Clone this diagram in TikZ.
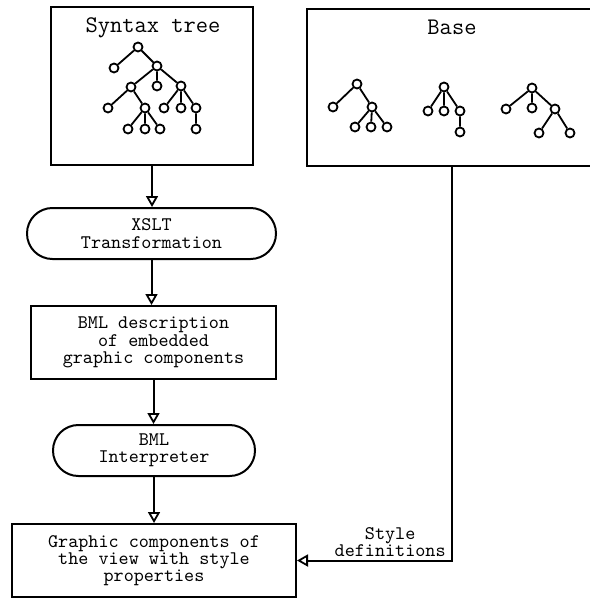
\documentclass[tikz,border=0pt]{standalone}
\usetikzlibrary{arrows.meta}
\tikzset{
  every picture/.style={x=0.5pt,y=-0.5pt},
  txt/.style={font={\ttfamily\fontsize{9.6}{8.6}\selectfont},align=center},
  ttl/.style={font={\ttfamily\fontsize{11.9}{12}\selectfont}},
  box/.style={draw,line width=1pt,rectangle,inner sep=0pt,txt},
  pill/.style={draw,line width=1pt,rectangle,rounded corners=12.7pt,inner sep=0pt,txt},
  tn/.style={circle,draw,line width=0.9pt,fill=white,inner sep=0pt,minimum size=4.5pt},
  te/.style={line width=0.9pt},
  flow/.style={line width=1pt,-{Triangle[open,length=5.5pt,width=6pt,line width=0.9pt]}}
}
\begin{document}
\begin{tikzpicture}
\useasboundingbox (0,0) rectangle (589,599);
% boxes
\node[box,minimum width=101pt,minimum height=79pt] (syn) at (152,86) {};
\node[box,minimum width=145pt,minimum height=78.5pt] (base) at (452,87.5) {};
\node[ttl] (syntitle) at (153,28) {Syntax tree};
\node[ttl] (basetitle) at (452,27) {Base};
\node[pill,minimum width=124.5pt,minimum height=25.5pt] (xslt) at (151.5,233.5) {XSLT\\Transformation};
\node[box,minimum width=122.5pt,minimum height=36.5pt] (bmld) at (153.5,342.5) {BML description\\of embedded\\graphic components};
\node[pill,minimum width=101pt,minimum height=25.5pt] (interp) at (154,450.5) {BML\\Interpreter};
\node[box,minimum width=142pt,minimum height=36.5pt] (gc) at (154,560.5) {Graphic components of\\the view with style\\properties};
% flow arrows
\draw[flow] (syn.south) -- (syn.south |- xslt.north);
\draw[flow] (xslt.south) -- (xslt.south |- bmld.north);
\draw[flow] (bmld.south) -- (bmld.south |- interp.north);
\draw[flow] (interp.south) -- (interp.south |- gc.north);
\coordinate (corner) at (base.south |- gc.east);
\draw[flow] (base.south) -- (corner) -- (gc.east);
\node[txt,anchor=south east,inner sep=1.5pt,xshift=-1.5pt] (stylelbl) at (corner) {Style\\definitions};
% syntax tree
\node[tn] (s0) at (138,47) {};
\node[tn] (s1) at (114,68) {};
\node[tn] (s2) at (157,66) {};
\node[tn] (s3) at (131,87) {};
\node[tn] (s4) at (157,86) {};
\node[tn] (s5) at (181,86) {};
\node[tn] (s6) at (108,108) {};
\node[tn] (s7) at (145,108) {};
\node[tn] (s8) at (128,129) {};
\node[tn] (s9) at (145,129) {};
\node[tn] (s10) at (160,129) {};
\node[tn] (s11) at (164,108) {};
\node[tn] (s12) at (181,108) {};
\node[tn] (s13) at (196,108) {};
\node[tn] (s14) at (196,129) {};
\draw[te] (s0)--(s1) (s0)--(s2) (s2)--(s3) (s2)--(s4) (s2)--(s5)
  (s3)--(s6) (s3)--(s7) (s7)--(s8) (s7)--(s9) (s7)--(s10)
  (s5)--(s11) (s5)--(s12) (s5)--(s13) (s13)--(s14);
% base tree 1
\node[tn] (a0) at (357,84) {};
\node[tn] (a1) at (333,107) {};
\node[tn] (a2) at (372,107) {};
\node[tn] (a3) at (355,127) {};
\node[tn] (a4) at (371,127) {};
\node[tn] (a5) at (387,127) {};
\draw[te] (a0)--(a1) (a0)--(a2) (a2)--(a3) (a2)--(a4) (a2)--(a5);
% base tree 2
\node[tn] (b0) at (444,87) {};
\node[tn] (b1) at (428,111) {};
\node[tn] (b2) at (444,111) {};
\node[tn] (b3) at (460,111) {};
\node[tn] (b4) at (460,132) {};
\draw[te] (b0)--(b1) (b0)--(b2) (b0)--(b3) (b3)--(b4);
% base tree 3
\node[tn] (c0) at (532,88) {};
\node[tn] (c1) at (506,109) {};
\node[tn] (c2) at (532,108) {};
\node[tn] (c3) at (555,109) {};
\node[tn] (c4) at (539,133) {};
\node[tn] (c5) at (570,133) {};
\draw[te] (c0)--(c1) (c0)--(c2) (c0)--(c3) (c3)--(c4) (c3)--(c5);
\end{tikzpicture}
\end{document}
